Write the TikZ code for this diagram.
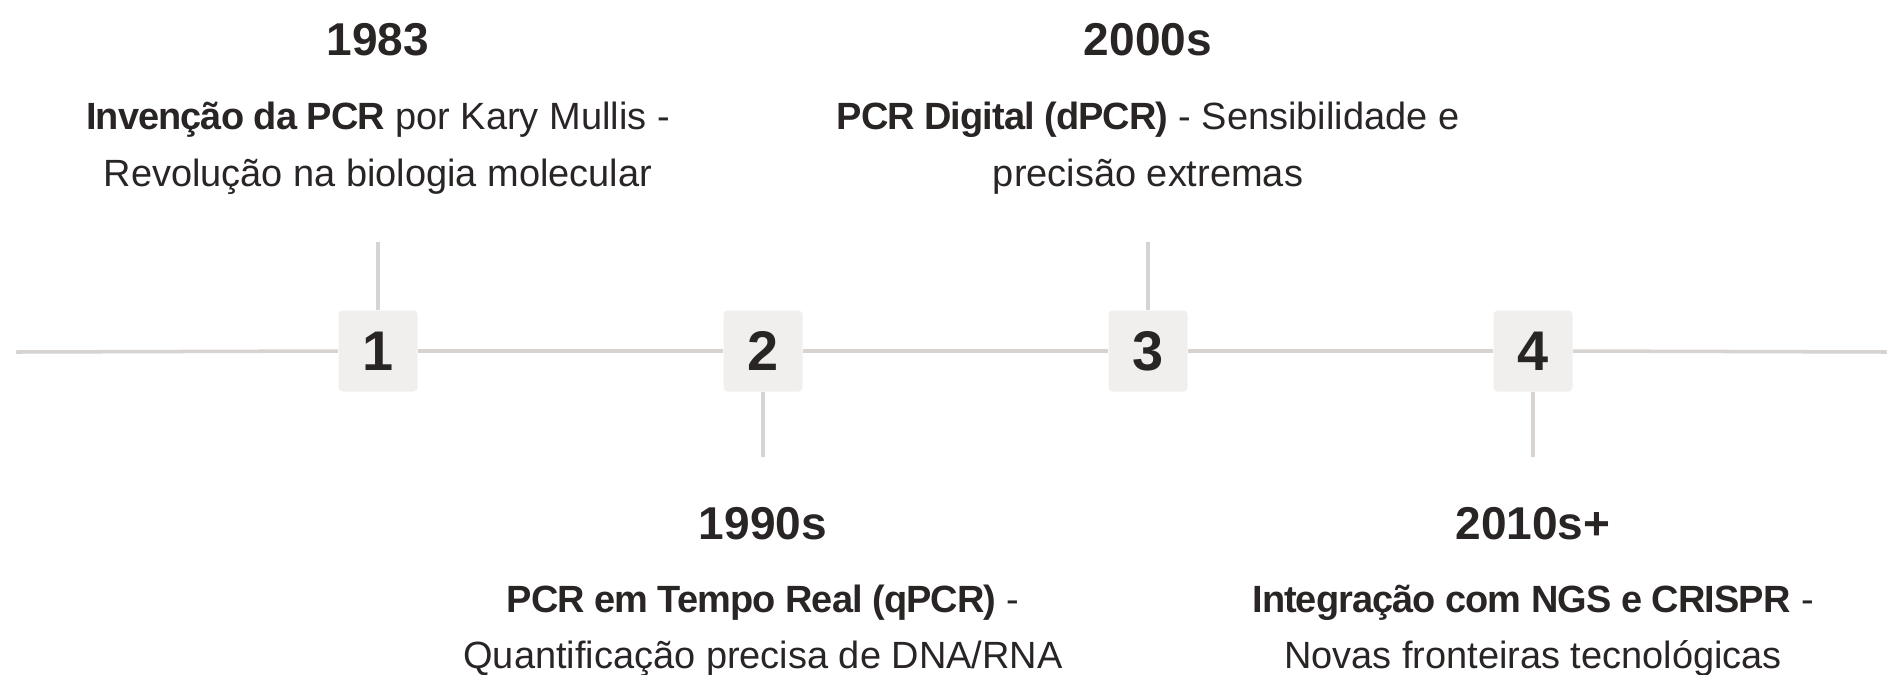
\documentclass[tikz,border=0pt]{standalone}
\usepackage{fontspec}
\setmainfont{Liberation Sans}
\newfontfamily\tightsans{Liberation Sans}[LetterSpace=-2.5]
\newcommand{\keyterm}[1]{{\tightsans\bfseries #1}}
\definecolor{ink}{HTML}{292524}
\definecolor{railgray}{HTML}{D6D3D1}
\definecolor{chipfill}{HTML}{F1EFEE}
\begin{document}
\begin{tikzpicture}[
  yearlbl/.style={anchor=base, inner sep=0, text=ink, font=\fontsize{13.1}{15}\selectfont\bfseries},
  desclbl/.style={anchor=base, inner sep=0, text=ink, font=\fontsize{10.8}{13}\selectfont},
  chipbox/.style={fill=chipfill, rounded corners=0.04cm, minimum width=0.79cm, minimum height=0.81cm, inner sep=0, text=ink, font=\fontsize{15.9}{18}\selectfont\bfseries},
  railline/.style={draw=railgray, line width=1pt}]
\useasboundingbox (0,0) rectangle (18.87,6.74);

\coordinate (L) at (0.16,3.22);
\coordinate (R) at (18.87,3.22);

\node[chipbox] (b1) at (3.78,3.23) {1};
\node[chipbox] (b2) at (7.63,3.23) {2};
\node[chipbox] (b3) at (11.48,3.23) {3};
\node[chipbox] (b4) at (15.33,3.23) {4};

% the rail, box to box
\draw[railline] (L) -- (b1.west);
\draw[railline] (b1.east) -- (b2.west);
\draw[railline] (b2.east) -- (b3.west);
\draw[railline] (b3.east) -- (b4.west);
\draw[railline] (b4.east) -- (R);

% stems
\coordinate (s1) at (3.78,4.32);
\coordinate (s2) at (7.63,2.17);
\coordinate (s3) at (11.48,4.32);
\coordinate (s4) at (15.33,2.17);
\draw[railline] (b1.north) -- (s1);
\draw[railline] (b2.south) -- (s2);
\draw[railline] (b3.north) -- (s3);
\draw[railline] (b4.south) -- (s4);

% upper labels
\node[yearlbl] (y1) at (3.78,6.19) {1983};
\node[desclbl] (d1a) at (3.78,5.45) {\keyterm{Invenção da PCR} por Kary Mullis -};
\node[desclbl] (d1b) at (3.78,4.88) {Revolução na biologia molecular};

\node[yearlbl] (y3) at (11.48,6.19) {2000s};
\node[desclbl] (d3a) at (11.48,5.45) {\keyterm{PCR Digital (dPCR)} - Sensibilidade e};
\node[desclbl] (d3b) at (11.48,4.88) {precisão extremas};

% lower labels
\node[yearlbl] (y2) at (7.63,1.35) {1990s};
\node[desclbl] (d2a) at (7.63,0.62) {\keyterm{PCR em Tempo Real (qPCR)} -};
\node[desclbl] (d2b) at (7.63,0.06) {Quantificação precisa de DNA/RNA};

\node[yearlbl] (y4) at (15.33,1.35) {2010s+};
\node[desclbl] (d4a) at (15.33,0.62) {\keyterm{Integração com NGS e CRISPR} -};
\node[desclbl] (d4b) at (15.33,0.06) {Novas fronteiras tecnológicas};
\end{tikzpicture}
\end{document}
